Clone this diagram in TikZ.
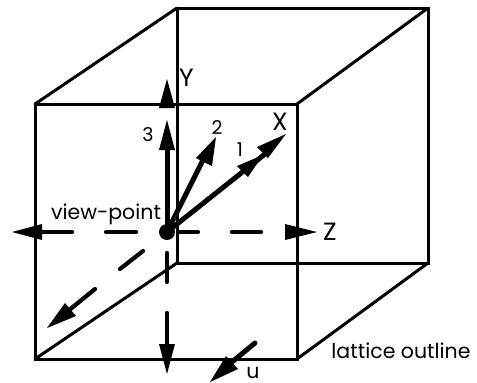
\documentclass[tikz,border=0pt]{standalone}
\usepackage{fontspec}
\setmainfont{Poppins}
\tikzset{
  edge/.style={line width=3pt,line cap=round,line join=miter},
  shaft/.style={line width=4.2pt,line cap=round},
  fatshaft/.style={line width=5pt,line cap=round},
  head/.style={fill=black,draw=none},
  axislab/.style={inner sep=0pt,font=\fontsize{25}{27}\selectfont},
  lab/.style={inner sep=0pt,font=\fontsize{20.5}{22}\selectfont},
  smalllab/.style={inner sep=0pt,font=\fontsize{19}{21}\selectfont},
}
\begin{document}
\begin{tikzpicture}[x=1pt,y=-1pt]
\useasboundingbox (0,0) rectangle (477,383);
\coordinate (fa) at (35,104);
\coordinate (fb) at (297,104);
\coordinate (fc) at (297,359);
\coordinate (fd) at (35,359);
\coordinate (ba) at (177,8);
\coordinate (bb) at (428,8);
\coordinate (bc) at (428,263);
\coordinate (bd) at (177,263);
\draw[edge] (fa) -- (fb) -- (fc) -- (fd) -- cycle;
\draw[edge] (ba) -- (bb) -- (bc) -- (bd) -- cycle;
\draw[edge] (fa) -- (ba) (fb) -- (bb) (fc) -- (bc) (fd) -- (bd);

\coordinate (vp) at (167,232);
\fill (vp) circle (8);

% dashed axes
\draw[shaft] (42,232) -- (72,232) (106,232) -- (136,232) (179,232) -- (198,232) (232,232) -- (261,232);
\draw[shaft] (167,253) -- (167,282) (167,313) -- (167,345);
\draw[shaft] (143,251) -- (120,269) (95,289) -- (68,311);

% arrows from the view-point
\draw[fatshaft] (vp) -- (167,145);
\draw[fatshaft] (vp) -- (203,160);
\draw[fatshaft] (vp) -- (245,170);
\draw[fatshaft] (245,170) -- (265,154);

% heads
\fill[head] (167,79) -- (175,108) -- (159,108) -- cycle;
\fill[head] (167,120) -- (175,150) -- (159,150) -- cycle;
\fill[head] (216,137) -- (212,166) -- (196,158) -- cycle;
\fill[head] (263,155) -- (248,177) -- (237,166) -- cycle;
\fill[head] (286,134) -- (268,158) -- (257,147) -- cycle;
\fill[head] (12,232) -- (42,224) -- (42,240) -- cycle;
\fill[head] (317,232) -- (285,224) -- (285,240) -- cycle;
\fill[head] (167,374) -- (159,344) -- (175,344) -- cycle;
\fill[head] (47,328) -- (65,303) -- (76,316) -- cycle;
\fill[head] (210,382) -- (226,356) -- (238,369) -- cycle;
\draw[fatshaft] (255,343) -- (232,362);

% labels
\node[axislab] (ly) at (186.5,78) {Y};
\node[axislab] (lx) at (280,122) {X};
\node[axislab] (lz) at (330,232) {Z};
\node[smalllab] (l1) at (240,150) {1};
\node[smalllab] (l2) at (217,128) {2};
\node[smalllab] (l3) at (148,135) {3};
\node[lab] (lv) at (106,214) {view-point};
\node[lab] (ll) at (401,351) {lattice outline};
\node[lab] (lu) at (253,373) {u};
\end{tikzpicture}
\end{document}
